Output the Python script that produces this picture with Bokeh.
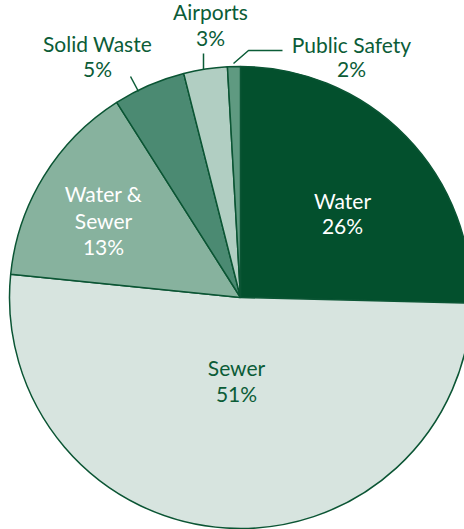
import math
from bokeh.plotting import figure
from bokeh.models import Range1d
from bokeh.core.properties import value
from bokeh.embed import file_html
from bokeh.resources import INLINE

# Data (shares read from the arc spans; labels as printed)
categories = ["Water", "Sewer", "Water & Sewer", "Solid Waste", "Airports", "Public Safety"]
shares = [25.4, 51.2, 14.4, 5.05, 3.05, 0.9]
pct_labels = ["26%", "51%", "13%", "5%", "3%", "2%"]
colors = ["#03502d", "#d7e4df", "#87b29e", "#4b8a72", "#b1cec2", "#5f9a81"]

W, H = 464, 529
cx, cy_px, R = 240, 297, 231
cy = H - cy_px

p = figure(width=W, height=H, output_backend="svg", toolbar_location=None,
           x_range=Range1d(0, W), y_range=Range1d(0, H), min_border=0)
p.axis.visible = False
p.grid.visible = False
p.outline_line_color = None
p.background_fill_color = "white"

total = sum(shares)
cum = 0.0
starts, ends = [], []
for s in shares:
    a0 = 90 - (cum + s) / total * 360
    a1 = 90 - cum / total * 360
    starts.append(math.radians(a0))
    ends.append(math.radians(a1))
    cum += s

p.wedge(x=[cx] * len(shares), y=[cy] * len(shares), radius=R,
        start_angle=starts, end_angle=ends, fill_color=colors,
        line_color="#0b5534", line_width=1.5)

font = value("Lato")
dark = "#0b5c37"

def lab(lines, x, mids, color):
    p.text(x=[x] * len(lines), y=[H - m + 1.5 for m in mids], text=lines,
           text_font=font, text_font_size="21px", text_color=color,
           text_align="center", text_baseline="middle")

lab([categories[0], pct_labels[0]], 342, [201.5, 226], "white")
lab([categories[1], pct_labels[1]], 236, [368.5, 394], dark)
lab(["Water &", "Sewer", pct_labels[2]], 103, [194.5, 221, 247.5], "white")
lab([categories[3], pct_labels[3]], 97, [44, 69.5], dark)
lab([categories[4], pct_labels[4]], 210, [12.5, 38.5], dark)
lab([categories[5], pct_labels[5]], 351, [45, 69.5], dark)

# leader lines
p.line(x=[130, 138], y=[H - 76, H - 91], line_color=dark, line_width=1.5)
p.line(x=[203, 203], y=[H - 53, H - 69], line_color=dark, line_width=1.5)
p.line(x=[233, 248, 282], y=[H - 63, H - 50, H - 50], line_color=dark, line_width=1.5)

open("out.html", "w").write(file_html(p, INLINE))
